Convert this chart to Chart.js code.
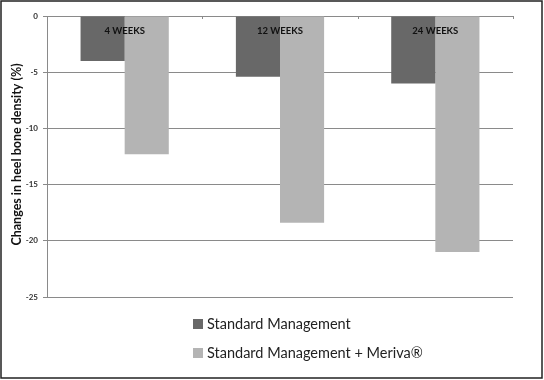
<!DOCTYPE html>
<html>
<head>
<meta charset="utf-8">
<script src="https://cdn.jsdelivr.net/npm/chart.js@4/dist/chart.umd.min.js"></script>
<style>
  html, body { margin: 0; padding: 0; background: #fff; }
  #wrap { width: 544px; height: 380px; position: relative; }
</style>
</head>
<body>
<div id="wrap"><canvas id="c" width="544" height="380"></canvas></div>
<script>
const categories = ["4 WEEKS", "12 WEEKS", "24 WEEKS"];
const seriesNames = ["Standard Management", "Standard Management + Meriva\u00AE"];
const standardValues = [-4.0, -5.4, -6.0];
const merivaValues = [-12.3, -18.4, -21.0];
const yTicks = [0, -5, -10, -15, -20, -25];
const yTitle = "Changes in heel bone density (%)";

const FONT = "Lato, 'Liberation Sans', sans-serif";

const decorPlugin = {
  id: 'decor',
  afterDatasetsDraw(chart) {
    const ctx = chart.ctx;
    const x = chart.scales.x, y = chart.scales.y;
    const zeroY = y.getPixelForValue(0);
    ctx.save();
    // tick marks on zero line at category boundaries
    ctx.strokeStyle = '#8a8a8a';
    ctx.lineWidth = 1;
    for (let i = 0; i < categories.length; i++) {
      const c = x.getPixelForValue(i);
      const next = i < categories.length - 1 ? x.getPixelForValue(i + 1) : null;
      const prev = i > 0 ? x.getPixelForValue(i - 1) : null;
      const half = next !== null ? (next - c) / 2 : (c - prev) / 2;
      const bx = Math.round(c + half) + 0.5;
      ctx.beginPath();
      ctx.moveTo(bx, zeroY);
      ctx.lineTo(bx, zeroY + 3);
      ctx.stroke();
    }
    // category labels inside plot near the top
    ctx.fillStyle = '#111';
    ctx.font = "bold 9.5px " + FONT;
    ctx.textAlign = 'center';
    ctx.textBaseline = 'middle';
    categories.forEach((lab, i) => {
      ctx.fillText(lab, x.getPixelForValue(i), zeroY + 15);
    });
    ctx.restore();
  },
  afterDraw(chart) {
    const ctx = chart.ctx;
    const area = chart.chartArea;
    ctx.save();
    // y-axis title
    ctx.translate(17, (area.top + area.bottom) / 2 - 2);
    ctx.rotate(-Math.PI / 2);
    ctx.font = "bold 12.5px " + FONT;
    ctx.fillStyle = '#111';
    ctx.textAlign = 'center';
    ctx.textBaseline = 'middle';
    ctx.fillText(yTitle, 0, 0);
    ctx.restore();

    ctx.save();
    // legend (vertical, below plot)
    ctx.font = "14.5px " + FONT;
    ctx.textBaseline = 'middle';
    ctx.textAlign = 'left';
    const lx = 193, ly0 = 324, dy = 29;
    chart.data.datasets.forEach((ds, i) => {
      const cy = ly0 + i * dy;
      ctx.fillStyle = ds.backgroundColor;
      ctx.fillRect(lx, cy - 5, 10, 10);
      ctx.fillStyle = '#222';
      ctx.fillText(ds.label, lx + 14, cy);
    });
    // outer frame
    ctx.strokeStyle = '#222';
    ctx.lineWidth = 1.5;
    ctx.strokeRect(1, 1, 541, 377);
    ctx.restore();
  }
};

new Chart(document.getElementById('c'), {
  type: 'bar',
  data: {
    labels: categories,
    datasets: [
      { label: seriesNames[0], data: standardValues, backgroundColor: '#686868', borderWidth: 0 },
      { label: seriesNames[1], data: merivaValues, backgroundColor: '#b4b4b4', borderWidth: 0 }
    ]
  },
  options: {
    responsive: false,
    animation: false,
    devicePixelRatio: 1,
    layout: { padding: { left: 0, top: 16, right: 31, bottom: 83 } },
    plugins: {
      legend: { display: false },
      tooltip: { enabled: false }
    },
    datasets: {
      bar: { categoryPercentage: 0.568, barPercentage: 1.0 }
    },
    scales: {
      x: {
        display: false,
        grid: { display: false }
      },
      y: {
        min: -25,
        max: 0,
        afterBuildTicks(scale) { scale.ticks = yTicks.map(v => ({ value: v })); },
        afterFit(scale) { scale.width = 47; },
        border: { display: true, color: '#8a8a8a', width: 1 },
        grid: { color: '#8a8a8a', lineWidth: 1, drawTicks: true, tickLength: 4, tickColor: '#8a8a8a' },
        ticks: {
          color: '#333',
          font: { family: FONT, size: 8, weight: 'bold' },
          padding: 5,
          callback: v => String(v)
        },
        title: { display: false }
      }
    }
  },
  plugins: [decorPlugin]
});
</script>
</body>
</html>
